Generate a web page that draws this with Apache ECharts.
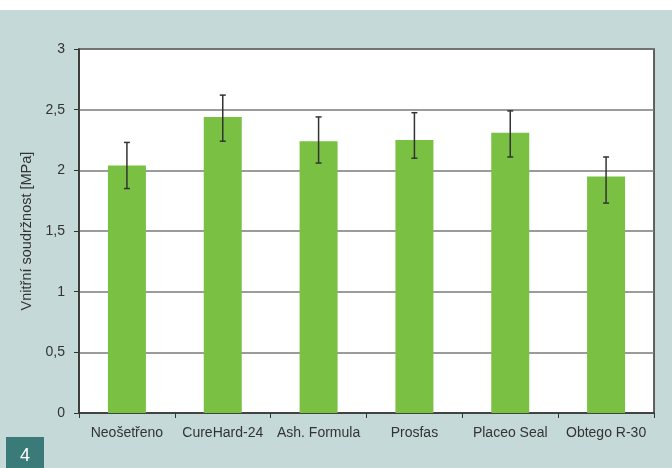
<!DOCTYPE html>
<html>
<head>
<meta charset="utf-8">
<script src="https://cdn.jsdelivr.net/npm/echarts@6/dist/echarts.min.js"></script>
<style>
html,body{margin:0;padding:0;background:#fff;}
#main{width:672px;height:468px;}
</style>
</head>
<body>
<div id="main"></div>
<script>
var categories = ['Neošetřeno', 'CureHard-24', 'Ash. Formula', 'Prosfas', 'Placeo Seal', 'Obtego R-30'];
var values = [2.04, 2.44, 2.24, 2.25, 2.31, 1.95];
var errLow = [1.85, 2.24, 2.06, 2.10, 2.11, 1.73];
var errHigh = [2.23, 2.62, 2.44, 2.475, 2.49, 2.11];
var yTicks = ['0', '0,5', '1', '1,5', '2', '2,5', '3'];

var errData = [];
for (var i = 0; i < categories.length; i++) {
    errData.push([i, errLow[i], errHigh[i]]);
}

var myChart = echarts.init(document.getElementById('main'));

var option = {
    animation: false,
    textStyle: {fontFamily: 'Liberation Sans, Arial, sans-serif'},
    graphic: [
        {type: 'rect', z: -10, shape: {x: 0, y: 10, width: 672, height: 458}, style: {fill: '#c5d9d8'}},
        {type: 'rect', z: -10, shape: {x: 6, y: 437, width: 38, height: 31}, style: {fill: '#3a7a78'}},
        {type: 'text', z: 10, x: 25, y: 456, style: {text: '4', fill: '#fff', fontSize: 18, align: 'center', verticalAlign: 'middle', fontFamily: 'Liberation Sans, Arial, sans-serif'}}
    ],
    grid: {
        left: 79, top: 49, right: 18, bottom: 55,
        show: true,
        backgroundColor: '#fff',
        borderColor: '#333',
        borderWidth: 1.5
    },
    xAxis: {
        type: 'category',
        data: categories,
        axisLine: {lineStyle: {color: '#333', width: 1.5}},
        axisTick: {show: true, length: 5, lineStyle: {color: '#333'}},
        axisLabel: {color: '#333', fontSize: 14, margin: 13, interval: 0}
    },
    yAxis: {
        type: 'value',
        min: 0, max: 3, interval: 0.5,
        name: 'Vnitřní soudržnost [MPa]',
        nameLocation: 'middle',
        nameGap: 41,
        nameTextStyle: {color: '#333', fontSize: 14.5},
        axisLine: {show: true, lineStyle: {color: '#333', width: 1.5}},
        axisTick: {show: true, length: 5, lineStyle: {color: '#333'}},
        axisLabel: {
            color: '#333', fontSize: 14, margin: 14,
            formatter: function (v) { return yTicks[Math.round(v * 2)]; }
        },
        splitLine: {lineStyle: {color: '#7a7a7a', width: 1.5}}
    },
    series: [
        {
            type: 'bar',
            data: values,
            barWidth: 38,
            itemStyle: {color: '#7ac143'}
        },
        {
            type: 'custom',
            data: errData,
            z: 5,
            renderItem: function (params, api) {
                var x = api.value(0);
                var lo = api.coord([x, api.value(1)]);
                var hi = api.coord([x, api.value(2)]);
                var hw = 3;
                var st = {stroke: '#333', lineWidth: 1.5};
                return {
                    type: 'group',
                    children: [
                        {type: 'line', shape: {x1: lo[0], y1: lo[1], x2: hi[0], y2: hi[1]}, style: st},
                        {type: 'line', shape: {x1: lo[0] - hw, y1: lo[1], x2: lo[0] + hw, y2: lo[1]}, style: st},
                        {type: 'line', shape: {x1: hi[0] - hw, y1: hi[1], x2: hi[0] + hw, y2: hi[1]}, style: st}
                    ]
                };
            }
        }
    ]
};
myChart.setOption(option);
</script>
</body>
</html>
